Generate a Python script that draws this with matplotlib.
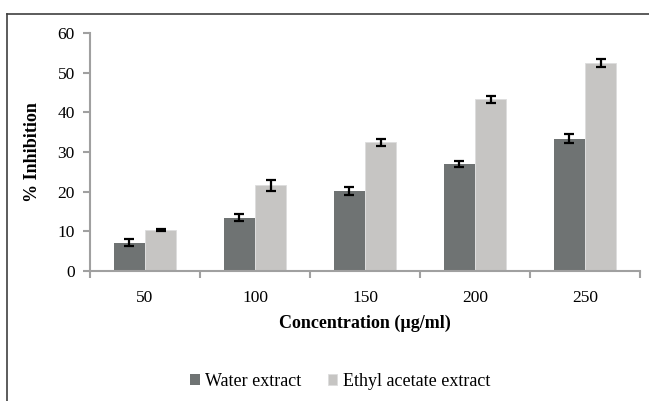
import numpy as np
import matplotlib
matplotlib.use('Agg')
import matplotlib.pyplot as plt
from matplotlib.lines import Line2D

concentrations = ['50', '100', '150', '200', '250']
water = [7.1, 13.4, 20.2, 26.9, 33.4]
water_err = [0.85, 0.9, 1.1, 0.75, 1.25]
ethyl = [10.4, 21.6, 32.4, 43.3, 52.4]
ethyl_err = [0.3, 1.4, 0.85, 0.9, 1.0]

plt.rcParams['font.family'] = ['Liberation Serif', 'DejaVu Serif']

W, H = 649, 401
fig = plt.figure(figsize=(W / 100, H / 100), dpi=100)
ax = fig.add_axes([90 / W, 1 - 271 / H, 550 / W, 238 / H])

x = np.arange(len(concentrations))
bw = 0.282
err_kw = dict(ecolor='black', elinewidth=1.6, capsize=3.5, capthick=1.6)
ax.bar(x - bw / 2, water, bw, yerr=water_err, color='#6f7373',
       label='Water extract', error_kw=err_kw, zorder=2)
ax.bar(x + bw / 2, ethyl, bw, yerr=ethyl_err, color='#c6c5c3',
       edgecolor='#dddddd', linewidth=0.6,
       label='Ethyl acetate extract', error_kw=err_kw, zorder=2)

ax.set_xlim(-0.5, len(concentrations) - 0.5)
ax.set_ylim(0, 60)
ax.set_yticks(range(0, 61, 10))
ax.set_xticks(x)
ax.set_xticklabels(concentrations)
ax.set_xticks(np.arange(-0.5, len(concentrations)), minor=True)
ax.tick_params(axis='x', which='major', length=0, labelsize=12.5, pad=14)
ax.tick_params(axis='x', which='minor', length=5, color='#a0a0a0', width=1.5)
ax.tick_params(axis='y', length=5, color='#a0a0a0', width=1.5, labelsize=12.5, pad=6)

for s in ['top', 'right']:
    ax.spines[s].set_visible(False)
for s in ['left', 'bottom']:
    ax.spines[s].set_color('#a0a0a0')
    ax.spines[s].set_linewidth(1.5)

ax.set_xlabel('Concentration (µg/ml)', fontsize=13, fontweight='bold', labelpad=6)
ax.set_ylabel('% Inhibition', fontsize=13, fontweight='bold', labelpad=12)

ax.legend(loc='center', bbox_to_anchor=(340 / W, 1 - 381 / H),
          bbox_transform=fig.transFigure, ncol=2, frameon=False,
          fontsize=13, handlelength=0.55, handleheight=0.55,
          handletextpad=0.28, columnspacing=1.45)

# outer frame (cropped on right and bottom)
fig.add_artist(Line2D([7 / W, 7 / W], [0, 1 - 14 / H], color='#404040', lw=1.2,
                      transform=fig.transFigure))
fig.add_artist(Line2D([7 / W, 1], [1 - 14 / H, 1 - 14 / H], color='#404040', lw=1.2,
                      transform=fig.transFigure))

fig.savefig('out.png', dpi=100)
